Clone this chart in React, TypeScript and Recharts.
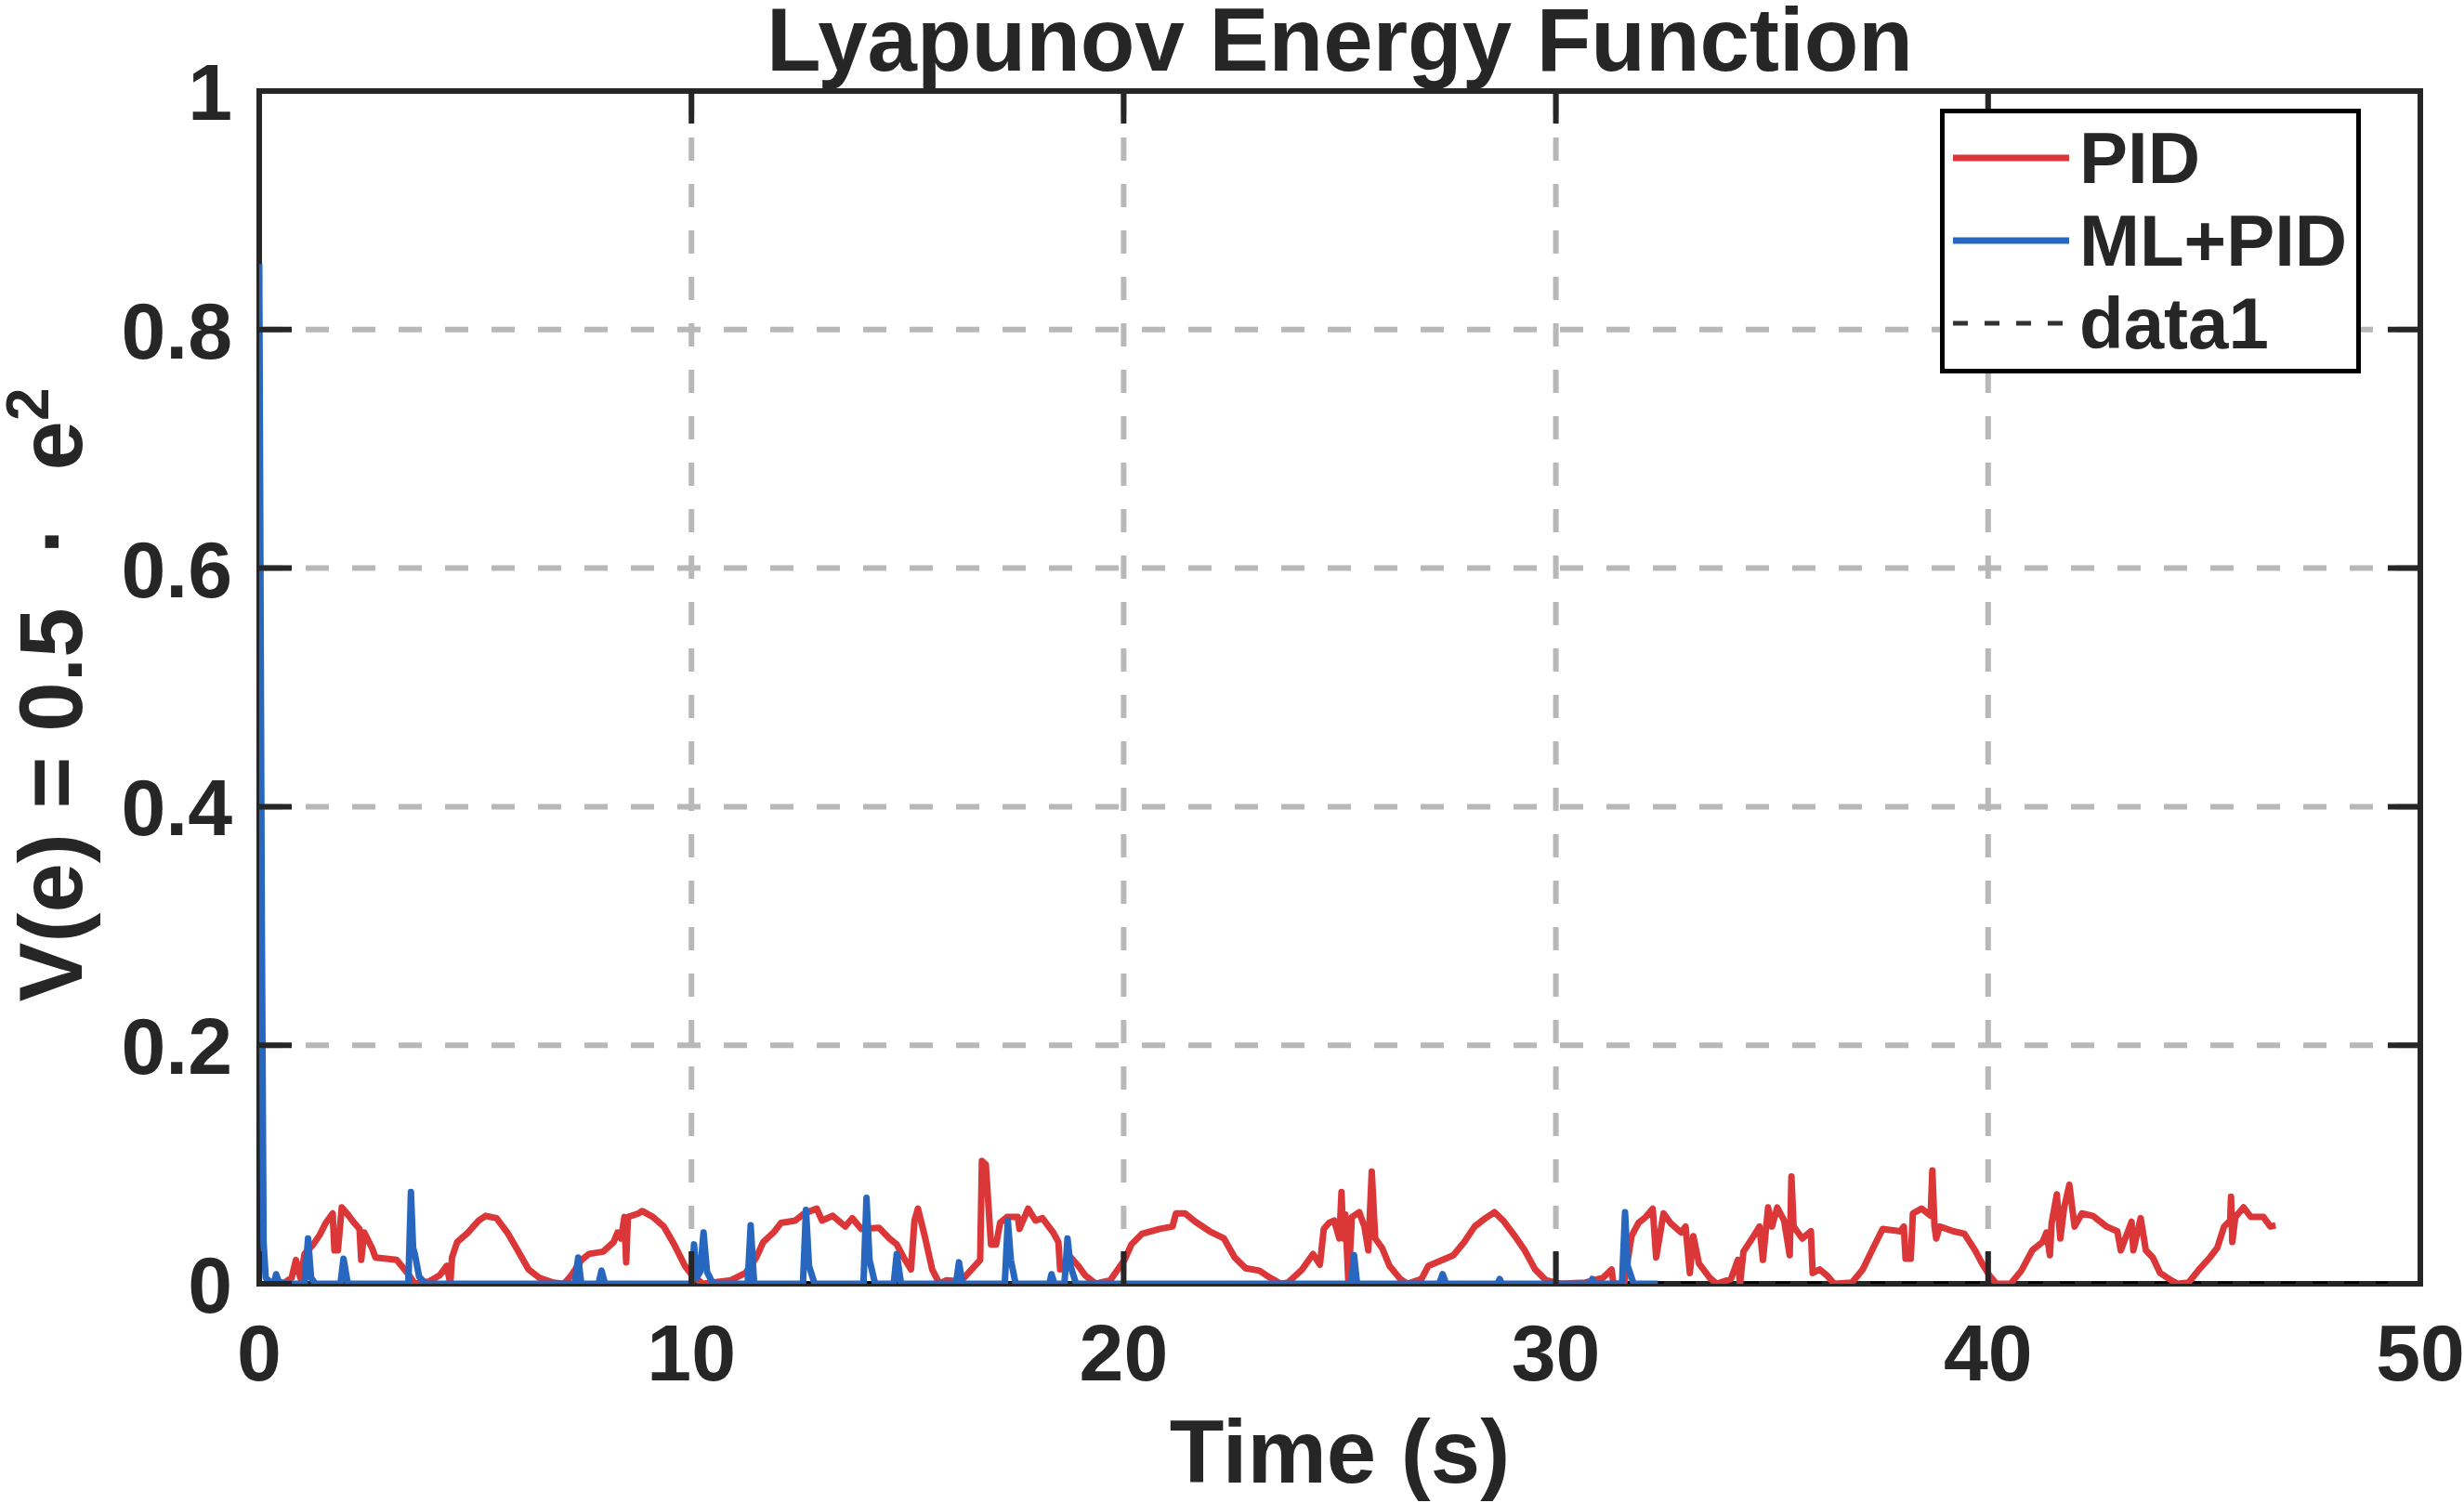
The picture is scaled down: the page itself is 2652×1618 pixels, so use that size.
import React from 'react';
import { LineChart, Line, XAxis, YAxis, CartesianGrid, Legend, ReferenceArea, Label } from 'recharts';

// PID trace (time in s, V(e))
const pidTime = [
  0.55, 0.75, 0.85, 0.95, 1.05, 1.25, 1.4, 1.54, 1.7, 1.74,
  1.82, 1.91, 2.03, 2.2, 2.32, 2.36, 2.43, 2.61, 2.69, 2.94,
  3.18, 3.43, 3.6, 3.93, 4.17, 4.34, 4.42, 4.46, 4.58, 4.83,
  5.08, 5.24, 5.49, 5.74, 5.98, 6.23, 6.48, 6.81, 7.05, 7.22,
  7.46, 7.63, 7.96, 8.2, 8.29, 8.37, 8.45, 8.49, 8.53, 8.78,
  8.86, 9.11, 9.36, 9.6, 9.85, 10.02, 10.26, 10.92, 11.25, 11.5,
  11.66, 11.9, 12.07, 12.4, 12.61, 12.9, 13.02, 13.27, 13.56, 13.72,
  13.93, 14.34, 14.58, 14.75, 14.91, 15.08, 15.16, 15.24, 15.41, 15.57,
  15.74, 15.9, 16.23, 16.48, 16.68, 16.72, 16.81, 16.93, 17.05, 17.14,
  17.3, 17.55, 17.59, 17.79, 17.96, 18.12, 18.37, 18.49, 18.53, 18.78,
  18.95, 19.11, 19.36, 19.69, 20.02, 20.18, 20.43, 20.84, 21.13, 21.21,
  21.42, 21.66, 21.99, 22.32, 22.57, 22.82, 23.14, 23.39, 23.64, 23.8,
  24.13, 24.38, 24.54, 24.63, 24.75, 24.87, 24.99, 25.04, 25.08, 25.13,
  25.2, 25.28, 25.45, 25.57, 25.66, 25.74, 25.82, 25.98, 26.15, 26.4,
  26.56, 26.89, 27.05, 27.38, 27.63, 27.88, 28.12, 28.37, 28.58, 28.78,
  29.03, 29.28, 29.52, 29.77, 30.1, 30.68, 31.09, 31.29, 31.33, 31.58,
  31.75, 31.91, 32.08, 32.24, 32.32, 32.49, 32.65, 32.9, 33.0, 33.1,
  33.18, 33.31, 33.56, 33.72, 34.05, 34.21, 34.26, 34.34, 34.63, 34.71,
  34.79, 34.91, 35.0, 35.12, 35.28, 35.41, 35.45, 35.5, 35.7, 35.9,
  35.94, 36.1, 36.27, 36.44, 36.85, 37.1, 37.34, 37.56, 37.97, 38.05,
  38.09, 38.21, 38.26, 38.46, 38.67, 38.71, 38.76, 38.8, 38.88, 39.2,
  39.45, 39.7, 39.86, 40.03, 40.19, 40.52, 40.77, 41.02, 41.26, 41.35,
  41.43, 41.47, 41.59, 41.67, 41.76, 41.88, 42.0, 42.17, 42.42, 42.74,
  42.99, 43.07, 43.32, 43.36, 43.53, 43.65, 43.81, 43.98, 44.23, 44.39,
  44.64, 44.88, 45.13, 45.3, 45.46, 45.6, 45.62, 45.65, 45.72, 45.91,
  46.08, 46.37, 46.53, 46.65,
];
const pidValue = [
  0, 0.005, 0.02, 0.005, 0.025, 0.033, 0.041, 0.051, 0.059, 0.028,
  0.028, 0.064, 0.059, 0.051, 0.046, 0.02, 0.043, 0.03, 0.022, 0.021,
  0.02, 0.009, 0, 0.002, 0.007, 0.015, 0, 0.022, 0.035, 0.043,
  0.053, 0.057, 0.055, 0.043, 0.028, 0.012, 0.005, 0.001, 0, 0.007,
  0.02, 0.025, 0.027, 0.035, 0.043, 0.038, 0.056, 0.018, 0.056, 0.059,
  0.061, 0.056, 0.048, 0.033, 0.015, 0.007, 0, 0.003, 0.009, 0.022,
  0.035, 0.043, 0.051, 0.053, 0.059, 0.063, 0.053, 0.057, 0.048, 0.055,
  0.046, 0.047, 0.038, 0.033, 0.022, 0.012, 0.053, 0.063, 0.038, 0.012,
  0, 0.003, 0.002, 0.012, 0.02, 0.103, 0.1, 0.033, 0.033, 0.051,
  0.056, 0.056, 0.046, 0.063, 0.053, 0.055, 0.043, 0.035, 0.012, 0.022,
  0.015, 0.007, 0, 0.003, 0.02, 0.033, 0.042, 0.046, 0.048, 0.059,
  0.059, 0.052, 0.044, 0.038, 0.022, 0.013, 0.011, 0.005, 0, 0.001,
  0.012, 0.025, 0.016, 0.046, 0.051, 0.053, 0.038, 0.077, 0.038, 0.058,
  0, 0.056, 0.06, 0.048, 0.028, 0.094, 0.038, 0.03, 0.015, 0.004,
  0, 0.004, 0.015, 0.02, 0.024, 0.035, 0.048, 0.055, 0.06, 0.053,
  0.041, 0.028, 0.012, 0.003, 0, 0.001, 0.005, 0.012, 0, 0,
  0.04, 0.051, 0.056, 0.063, 0.022, 0.059, 0.051, 0.043, 0.048, 0.009,
  0.04, 0.017, 0.005, 0, 0.004, 0.02, 0, 0.027, 0.043, 0.048,
  0.02, 0.064, 0.048, 0.064, 0.053, 0.024, 0.09, 0.048, 0.038, 0.044,
  0.009, 0.012, 0.007, 0, 0.001, 0.012, 0.03, 0.046, 0.044, 0.048,
  0.021, 0.021, 0.059, 0.063, 0.057, 0.095, 0.048, 0.038, 0.048, 0.044,
  0.042, 0.028, 0.017, 0.007, 0, 0, 0.011, 0.028, 0.035, 0.043,
  0.024, 0.051, 0.075, 0.038, 0.064, 0.083, 0.048, 0.059, 0.057, 0.048,
  0.044, 0.028, 0.052, 0.028, 0.055, 0.028, 0.022, 0.009, 0.003, 0,
  0.001, 0.012, 0.022, 0.03, 0.048, 0.053, 0.073, 0.035, 0.056, 0.064,
  0.056, 0.056, 0.048, 0.049,
];

// ML+PID trace, mostly flat with short spikes
const mlTime = [
  0, 0.06, 0.1, 0.15, 0.3, 0.35, 0.39, 0.45, 0.6,
  1.05, 1.13, 1.2, 1.3,
  1.88, 1.95, 2.05,
  3.45, 3.51, 3.56, 3.6, 3.7, 3.85,
  7.3, 7.38, 7.45,
  7.85, 7.92, 8.0,
  10.0, 10.06, 10.12, 10.2, 10.28, 10.36, 10.5,
  11.3, 11.37, 11.45,
  12.58, 12.65, 12.72, 12.85,
  13.98, 14.05, 14.12, 14.25,
  14.68, 14.75, 14.85,
  16.12, 16.19, 16.27,
  17.25, 17.32, 17.39, 17.5,
  18.28, 18.33, 18.4,
  18.63, 18.7, 18.77, 18.9,
  25.27, 25.33, 25.4,
  27.3, 27.38, 27.46,
  28.65, 28.7, 28.75,
  30.8, 30.84, 30.9,
  31.53, 31.6, 31.66, 31.8,
  32.36,
];
const mlValue = [
  0.855, 0.3, 0.035, 0.005, 0, 0.002, 0.008, 0.002, 0,
  0, 0.038, 0.005, 0,
  0, 0.021, 0,
  0, 0.077, 0.03, 0.025, 0.006, 0,
  0, 0.022, 0,
  0, 0.011, 0,
  0, 0.033, 0.005, 0.01, 0.043, 0.01, 0,
  0, 0.049, 0,
  0, 0.062, 0.015, 0,
  0, 0.072, 0.02, 0,
  0, 0.025, 0,
  0, 0.018, 0,
  0, 0.053, 0.02, 0,
  0, 0.008, 0,
  0, 0.038, 0.015, 0,
  0, 0.024, 0,
  0, 0.008, 0,
  0, 0.004, 0,
  0, 0.004, 0,
  0, 0.06, 0.015, 0,
  0,
];

// zero reference line
const data1Time = [0, 50];
const data1Value = [0, 0];

const xTicks = [0, 10, 20, 30, 40, 50];
const yTicks = [0, 0.2, 0.4, 0.6, 0.8, 1];
const yTickLabels = ['0', '0.2', '0.4', '0.6', '0.8', '1'];

const pidData = pidTime.map((t, i) => ({ t, v: pidValue[i] }));
const mlData = mlTime.map((t, i) => ({ t, v: mlValue[i] }));
const data1Data = data1Time.map((t, i) => ({ t, v: data1Value[i] }));

const W = 2652;
const H = 1618;
const PLOT_LEFT = 279;
const PLOT_RIGHT = 2605;
const PLOT_TOP = 98;
const PLOT_BOTTOM = 1382;
const TICK_LEN = 35;

const FONT = '"Liberation Sans", Arial, Helvetica, sans-serif';
const INK = '#262626';
const RED = '#db3638';
const BLUE = '#2767c0';

function XTick(props: any) {
  const { x, y, payload } = props;
  return (
    <g>
      <line x1={x} y1={y} x2={x} y2={y - TICK_LEN} stroke={INK} strokeWidth={6} />
      <line x1={x} y1={PLOT_TOP} x2={x} y2={PLOT_TOP + TICK_LEN} stroke={INK} strokeWidth={6} />
      <text x={x} y={y + 104} textAnchor="middle" fontFamily={FONT} fontWeight={700} fontSize={86} fill={INK}>
        {payload.value}
      </text>
    </g>
  );
}

function YTick(props: any) {
  const { x, y, payload, index } = props;
  return (
    <g>
      <line x1={x} y1={y} x2={x + TICK_LEN} y2={y} stroke={INK} strokeWidth={6} />
      <line x1={PLOT_RIGHT - TICK_LEN} y1={y} x2={PLOT_RIGHT} y2={y} stroke={INK} strokeWidth={6} />
      <text x={x - 29} y={y + 31} textAnchor="end" fontFamily={FONT} fontWeight={700} fontSize={86} fill={INK}>
        {yTickLabels[index] ?? payload.value}
      </text>
    </g>
  );
}

function renderYLabel(props: any) {
  const vb = props.viewBox || { x: 0, y: PLOT_TOP, height: PLOT_BOTTOM - PLOT_TOP };
  const cy = vb.y + vb.height / 2 + 8;
  return (
    <text
      transform={`translate(88, ${cy}) rotate(-90)`}
      textAnchor="middle"
      fontFamily={FONT}
      fontWeight={700}
      fontSize={96}
      fill={INK}
    >
      V(e) = 0.5
      <tspan dx={58}>·</tspan>
      <tspan dx={58}>e</tspan>
      <tspan dy={-36} fontSize={64}>2</tspan>
    </text>
  );
}

function renderXLabel(props: any) {
  const vb = props.viewBox || { x: PLOT_LEFT, y: PLOT_BOTTOM, width: PLOT_RIGHT - PLOT_LEFT };
  return (
    <text
      x={vb.x + vb.width / 2}
      y={vb.y + 214}
      textAnchor="middle"
      fontFamily={FONT}
      fontWeight={700}
      fontSize={96}
      fill={INK}
    >
      Time (s)
    </text>
  );
}

const legendItems = [
  { name: 'PID', color: RED, dash: undefined as string | undefined, width: 7 },
  { name: 'ML+PID', color: BLUE, dash: undefined as string | undefined, width: 7 },
  { name: 'data1', color: '#333', dash: '16 18', width: 5 },
];

function renderLegend() {
  return (
    <svg width={453} height={285} style={{ display: 'block' }}>
      <rect x={2.5} y={2.5} width={448} height={280} fill="#fff" stroke="#000" strokeWidth={5} />
      {legendItems.map((it, i) => (
        <g key={it.name}>
          <line
            x1={14}
            x2={139}
            y1={53 + i * 89}
            y2={53 + i * 89}
            stroke={it.color}
            strokeWidth={it.width}
            strokeDasharray={it.dash}
          />
          <text x={150} y={80 + i * 89} fontFamily={FONT} fontWeight={700} fontSize={78} fill={INK}>
            {it.name}
          </text>
        </g>
      ))}
    </svg>
  );
}

export default function App() {
  return (
    <div style={{ position: 'absolute', left: 0, top: 0, width: W, height: H, background: '#fff' }}>
      <LineChart width={W} height={H} margin={{ top: PLOT_TOP, right: W - PLOT_RIGHT, bottom: 0, left: 0 }}>
        <CartesianGrid stroke="#b8b8b8" strokeWidth={6} strokeDasharray="25 25" />
        <XAxis
          type="number"
          dataKey="t"
          domain={[0, 50]}
          ticks={xTicks}
          interval={0}
          height={H - PLOT_BOTTOM}
          tickSize={0}
          tickMargin={0}
          tickLine={false}
          axisLine={false}
          tick={<XTick />}
          allowDataOverflow
        >
          <Label content={renderXLabel} />
        </XAxis>
        <YAxis
          type="number"
          domain={[0, 1]}
          ticks={yTicks}
          interval={0}
          width={PLOT_LEFT}
          tickSize={0}
          tickMargin={0}
          tickLine={false}
          axisLine={false}
          tick={<YTick />}
          allowDataOverflow
        >
          <Label content={renderYLabel} />
        </YAxis>
        <Line
          data={data1Data}
          dataKey="v"
          name="data1"
          stroke="#000"
          strokeWidth={5}
          strokeDasharray="16 18"
          dot={false}
          activeDot={false}
          isAnimationActive={false}
        />
        <Line
          data={pidData}
          dataKey="v"
          name="PID"
          type="linear"
          stroke={RED}
          strokeWidth={7}
          strokeLinejoin="round"
          dot={false}
          activeDot={false}
          isAnimationActive={false}
        />
        <Line
          data={mlData}
          dataKey="v"
          name="ML+PID"
          type="linear"
          stroke={BLUE}
          strokeWidth={7}
          strokeLinejoin="round"
          dot={false}
          activeDot={false}
          isAnimationActive={false}
        />
        <ReferenceArea x1={0} x2={50} y1={0} y2={1} fill="none" stroke={INK} strokeWidth={6} ifOverflow="visible" />
        <Legend
          layout="vertical"
          align="center"
          verticalAlign="middle"
          content={renderLegend}
          wrapperStyle={{ left: 2088, top: 117, width: 453, height: 285 }}
        />
        <text
          x={(PLOT_LEFT + PLOT_RIGHT) / 2}
          y={76}
          textAnchor="middle"
          fontFamily={FONT}
          fontWeight={700}
          fontSize={96}
          fill={INK}
        >
          Lyapunov Energy Function
        </text>
      </LineChart>
    </div>
  );
}
